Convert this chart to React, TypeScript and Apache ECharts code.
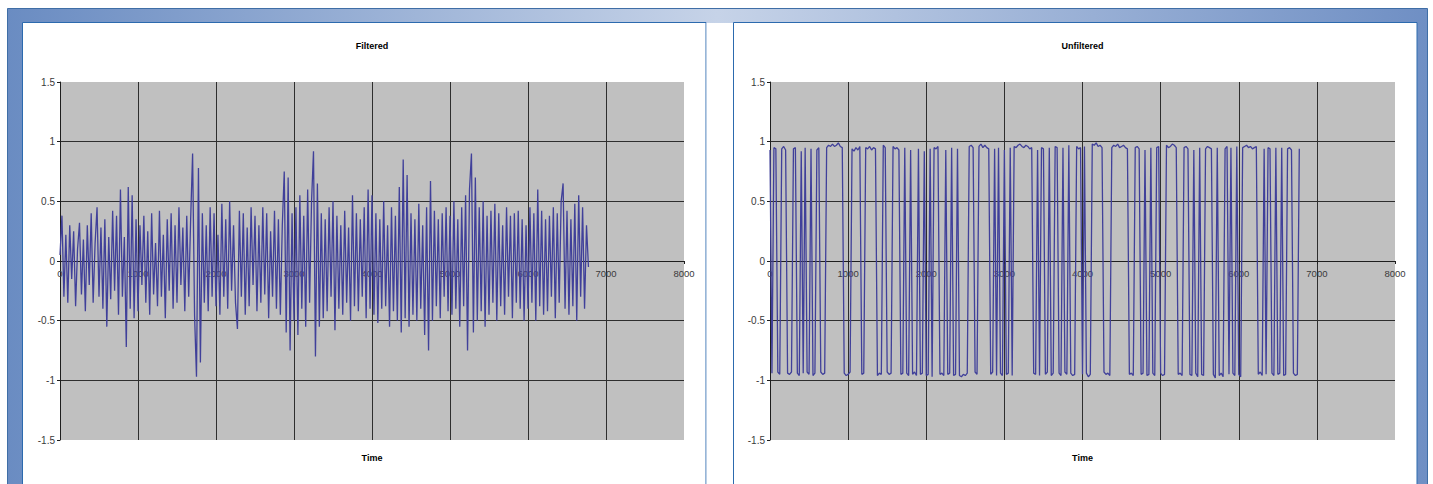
import React, { useEffect, useRef } from "react";
import * as echarts from "echarts";

const STEP = 25;

const filteredValues = [
  0.05, 0.38, -0.30, 0.22, -0.35, 0.30, -0.15, 0.25, -0.38, 0.10,
  0.32, -0.28, 0.18, -0.42, 0.30, -0.20, 0.40, -0.35, 0.15, 0.45,
  -0.30, 0.28, -0.40, 0.35, -0.55, 0.20, -0.32, 0.42, -0.25, 0.38,
  -0.45, 0.60, -0.30, 0.20, -0.72, 0.62, -0.40, 0.55, -0.48, 0.35,
  -0.42, 0.30, -0.20, 0.38, -0.35, 0.25, -0.45, 0.40, -0.28, 0.15,
  -0.38, 0.42, -0.30, 0.22, -0.48, 0.35, -0.25, 0.40, -0.40, 0.30,
  -0.35, 0.45, -0.20, 0.28, -0.42, 0.38, -0.30, 0.35, 0.90, -0.45,
  -0.97, 0.78, -0.85, 0.40, -0.35, 0.30, -0.42, 0.45, -0.30, 0.40,
  -0.38, 0.22, -0.45, 0.48, -0.30, 0.35, -0.40, 0.50, -0.25, 0.30,
  -0.35, -0.57, 0.42, -0.30, 0.40, -0.45, 0.28, -0.38, 0.45, -0.20,
  0.38, -0.42, 0.30, -0.35, 0.45, -0.28, 0.40, -0.48, 0.25, -0.30,
  0.42, -0.40, 0.35, -0.45, 0.30, 0.75, -0.60, 0.70, -0.75, 0.40,
  -0.50, 0.45, -0.62, 0.55, -0.40, 0.38, -0.55, 0.60, -0.35, 0.50,
  0.92, -0.80, 0.65, -0.55, 0.40, -0.48, 0.35, -0.42, 0.45, -0.30,
  0.50, -0.58, 0.38, -0.40, 0.30, -0.45, 0.42, -0.35, 0.28, -0.50,
  0.55, -0.38, 0.40, -0.42, 0.35, -0.30, 0.45, -0.48, 0.60, -0.40,
  0.55, -0.45, 0.40, -0.52, 0.35, -0.40, 0.50, -0.38, 0.30, -0.55,
  0.45, -0.42, 0.38, -0.50, 0.62, -0.60, 0.85, -0.48, 0.72, -0.55,
  0.40, -0.45, 0.35, -0.50, 0.48, -0.40, 0.30, -0.62, 0.45, -0.75,
  0.67, -0.50, 0.42, -0.38, 0.35, -0.48, 0.40, -0.30, 0.45, -0.42,
  0.38, -0.45, 0.50, -0.40, 0.35, -0.55, 0.45, -0.38, 0.55, -0.75,
  0.60, 0.90, -0.60, 0.70, -0.50, 0.45, -0.42, 0.50, -0.55, 0.38,
  -0.45, 0.42, -0.35, 0.48, -0.50, 0.40, -0.38, 0.30, -0.45, 0.45,
  -0.30, 0.38, -0.48, 0.40, -0.35, 0.42, -0.40, 0.35, -0.50, 0.30,
  -0.40, 0.45, -0.35, 0.40, -0.50, 0.60, -0.38, 0.42, -0.45, 0.35,
  -0.42, 0.38, -0.30, 0.45, -0.48, 0.40, -0.35, 0.50, 0.65, -0.40,
  0.42, -0.45, 0.35, -0.38, 0.48, -0.50, 0.55, -0.30, 0.45, -0.40,
  0.30, -0.05,
];

const unfilteredValues = [
  0.93, -0.94, 0.95, 0.94, -0.93, -0.95, 0.94, 0.96, 0.93, -0.94,
  -0.95, -0.93, 0.94, 0.95, -0.94, -0.96, 0.92, -0.94, 0.95, -0.93,
  -0.95, 0.94, -0.96, -0.94, 0.93, 0.95, -0.93, -0.95, -0.94, 0.95,
  0.97, 0.96, 0.98, 0.96, 0.97, 0.99, 0.96, 0.95, -0.94, -0.96,
  -0.95, -0.93, 0.94, 0.92, 0.95, 0.93, 0.96, -0.95, -0.94, 0.95,
  0.94, 0.96, 0.93, 0.95, 0.94, -0.96, -0.94, -0.95, 0.97, 0.95,
  -0.93, -0.95, -0.94, 0.96, 0.94, 0.95, 0.93, -0.95, -0.94, 0.95,
  -0.94, -0.96, 0.93, -0.95, -0.93, -0.96, 0.94, -0.95, -0.94, 0.92,
  -0.96, -0.95, 0.94, -0.97, 0.95, 0.94, 0.96, -0.95, -0.94, -0.96,
  0.93, -0.95, -0.94, 0.95, -0.96, -0.95, 0.94, -0.96, -0.97, -0.95,
  -0.96, -0.94, 0.96, 0.97, 0.95, -0.93, -0.95, 0.96, 0.98, 0.95,
  0.97, 0.95, 0.94, -0.95, -0.93, 0.94, -0.96, 0.95, -0.94, -0.96,
  0.93, -0.95, -0.94, 0.95, -0.96, 0.96, 0.95, 0.97, 0.98, 0.96,
  0.95, 0.97, 0.96, 0.94, 0.95, -0.94, -0.95, 0.93, -0.96, 0.95,
  0.94, -0.95, -0.93, 0.95, -0.96, -0.94, 0.96, 0.95, -0.94, -0.96,
  0.95, -0.93, -0.95, 0.97, -0.94, -0.96, -0.95, 0.96, 0.94, 0.95,
  -0.95, 0.96, -0.94, -0.97, -0.95, 0.98, 0.97, 0.99, 0.96, 0.97,
  0.95, -0.93, -0.95, -0.94, -0.96, 0.95, 0.97, 0.96, 0.98, 0.95,
  0.96, 0.97, 0.95, 0.94, -0.95, -0.94, -0.96, 0.95, 0.96, 0.94,
  -0.95, -0.94, 0.93, -0.96, -0.95, 0.95, -0.94, -0.96, 0.95, 0.96,
  -0.94, -0.96, -0.95, 0.97, 0.95, 0.96, 0.98, 0.97, 0.95, -0.95,
  -0.94, -0.96, 0.95, 0.96, 0.94, -0.95, -0.96, 0.93, -0.94, -0.97,
  0.95, -0.95, -0.96, 0.94, 0.96, 0.95, 0.94, -0.95, -0.98, 0.95,
  -0.96, -0.94, -0.97, 0.94, 0.96, -0.95, 0.95, -0.94, -0.96, 0.96,
  -0.95, -0.97, 0.95, 0.96, 0.97, 0.95, 0.96, 0.94, 0.95, 0.96,
  -0.95, -0.93, -0.96, 0.94, -0.95, 0.95, 0.94, -0.94, -0.96, 0.95,
  -0.95, -0.94, 0.95, -0.96, -0.95, 0.94, 0.95, 0.93, -0.94, -0.96,
  -0.95, 0.94,
];

const chartTitles = ["Filtered", "Unfiltered"];
const xAxisName = "Time";
const X_MIN = 0;
const X_MAX = 8000;
const X_INTERVAL = 1000;
const Y_MIN = -1.5;
const Y_MAX = 1.5;
const Y_INTERVAL = 0.5;

const FONT = "'Liberation Sans', Arial, Helvetica, sans-serif";

const toPairs = (vals: number[]) => vals.map((v, i) => [i * STEP, v]);

export default function App() {
  const ref = useRef<HTMLDivElement>(null);

  useEffect(() => {
    if (!ref.current) return;
    const chart = echarts.init(ref.current, null, { renderer: "svg" });

    const grids = [
      { left: 60, top: 82, width: 624, height: 358 },
      { left: 770, top: 82, width: 625, height: 358 },
    ];

    // x axis sits on the zero line (Excel style): the zero value is at the
    // vertical middle of the symmetric value range.
    const zeroOffset = (g: { height: number }) =>
      -(g.height * (0 - Y_MIN)) / (Y_MAX - Y_MIN);

    const xAxis = grids.map((g, gi) => ({
      type: "value",
      gridIndex: gi,
      position: "bottom",
      offset: zeroOffset(g),
      min: X_MIN,
      max: X_MAX,
      interval: X_INTERVAL,
      axisLine: { show: true, onZero: false, lineStyle: { color: "#1e1e1e", width: 1 } },
      axisTick: { show: true, inside: false, length: 3, lineStyle: { color: "#1e1e1e" } },
      axisLabel: {
        color: "#3a3a3a",
        fontSize: 9.5,
        fontFamily: FONT,
        margin: 7,
        formatter: (v: number) => String(v),
      },
      splitLine: {
        show: true,
        showMinLine: false,
        showMaxLine: false,
        lineStyle: { color: "#2e2e2e", width: 1 },
      },
    }));

    const yAxis = grids.map((_, gi) => ({
      type: "value",
      gridIndex: gi,
      min: Y_MIN,
      max: Y_MAX,
      interval: Y_INTERVAL,
      axisLine: { show: true, onZero: false, lineStyle: { color: "#1e1e1e", width: 1 } },
      axisTick: { show: true, inside: false, length: 3, lineStyle: { color: "#1e1e1e" } },
      axisLabel: { color: "#3a3a3a", fontSize: 10, fontFamily: FONT, margin: 5 },
      splitLine: {
        show: true,
        showMinLine: false,
        showMaxLine: false,
        lineStyle: { color: "#2e2e2e", width: 1 },
      },
    }));

    const seriesData = [filteredValues, unfilteredValues];

    const series = seriesData.map((vals, gi) => ({
      type: "line",
      xAxisIndex: gi,
      yAxisIndex: gi,
      data: toPairs(vals),
      showSymbol: false,
      symbol: "none",
      silent: true,
      lineStyle: { color: "#40409a", width: 1.3 },
      itemStyle: { color: "#40409a" },
      z: 3,
    }));

    const textEls: any[] = [];
    grids.forEach((g, gi) => {
      const cx = g.left + g.width / 2;
      textEls.push({
        type: "text",
        x: cx,
        y: 46,
        z: 10,
        style: {
          text: chartTitles[gi],
          fill: "#000",
          font: `bold 9px ${FONT}`,
          textAlign: "center",
          textVerticalAlign: "middle",
        },
      });
      textEls.push({
        type: "text",
        x: cx,
        y: 458,
        z: 10,
        style: {
          text: xAxisName,
          fill: "#000",
          font: `bold 9px ${FONT}`,
          textAlign: "center",
          textVerticalAlign: "middle",
        },
      });
    });

    chart.setOption({
      animation: false,
      backgroundColor: "#ffffff",
      grid: grids.map((g) => ({
        ...g,
        show: true,
        backgroundColor: "#c0c0c0",
        borderWidth: 0,
        containLabel: false,
      })),
      xAxis,
      yAxis,
      series,
      graphic: [
        {
          type: "rect",
          z: -10,
          silent: true,
          shape: { x: 7.5, y: 8.5, width: 1420, height: 490 },
          style: {
            fill: new echarts.graphic.LinearGradient(0, 0, 1, 0, [
              { offset: 0, color: "#6a8cc2" },
              { offset: 0.5, color: "#c6d3e8" },
              { offset: 1, color: "#6f8fc4" },
            ]),
            stroke: "#3f6ea6",
            lineWidth: 1,
          },
        },
        {
          type: "rect",
          z: -9,
          silent: true,
          shape: { x: 22.5, y: 22.5, width: 683.5, height: 480 },
          style: { fill: "#ffffff", stroke: "#2c6aae", lineWidth: 1 },
        },
        {
          type: "rect",
          z: -9,
          silent: true,
          shape: { x: 733.5, y: 22.5, width: 683.5, height: 480 },
          style: { fill: "#ffffff", stroke: "#2c6aae", lineWidth: 1 },
        },
        {
          type: "rect",
          z: -9,
          silent: true,
          shape: { x: 706.5, y: 23, width: 26.5, height: 480 },
          style: { fill: "#ffffff" },
        },
        ...textEls,
      ],
    });

    return () => chart.dispose();
  }, []);

  return (
    <div
      ref={ref}
      style={{ position: "absolute", left: 0, top: 0, width: 1433, height: 484 }}
    />
  );
}
